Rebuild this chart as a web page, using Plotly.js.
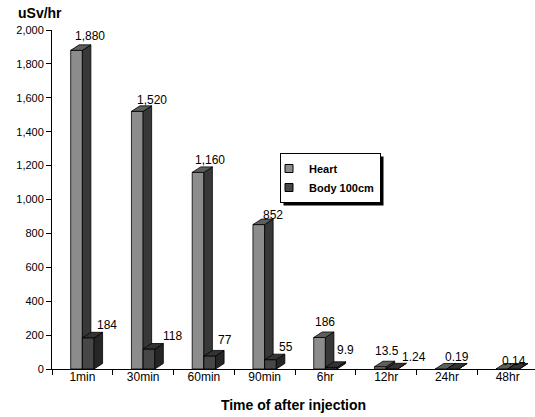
<!DOCTYPE html>
<html>
<head>
<meta charset="utf-8">
<script src="https://cdn.plot.ly/plotly-3.0.1.min.js"></script>
<style>html,body{margin:0;padding:0;background:#fff}#chart{width:535px;height:417px}</style>
</head>
<body>
<div id="chart"></div>
<script>
// ---- data ----
var categories = ["1min", "30min", "60min", "90min", "6hr", "12hr", "24hr", "48hr"];
var heartValues = [1880, 1520, 1160, 852, 186, 13.5, 0.19, 0.14];
var bodyValues  = [184, 118, 77, 55, 9.9, 1.24, 0, 0];
var seriesNames = ["Heart", "Body 100cm"];

// ---- label nudges (px) ----
var heartLabelDX = [8, 9, 6, 8, 0, 1, 10, 6];
var heartLabelDY = [14, 11, 12, 10, 15, 16, 12, 8];
var bodyLabelDX  = [25, 29, 21, 21, 20, 28, 0, 0];
var bodyLabelDY  = [13, 13, 16, 13, 17, 12, 0, 0];

// ---- geometry ----
var W = 535, H = 417;
var M = {l: 52, r: 0, t: 30, b: 48};
var plotW = W - M.l - M.r, plotH = H - M.t - M.b;
var xRange = [-0.5, 7.45], yRange = [0, 2000];
var pxX = (xRange[1] - xRange[0]) / plotW;   // data units per px (x)
var pxY = (yRange[1] - yRange[0]) / plotH;   // data units per px (y)
var barW = 11.7 * pxX;
var depthX = 8.5 * pxX, depthY = 5.5 * pxY;
var FONT = "Liberation Sans, Arial, sans-serif";

function faces(values, offset) {
  var fx = [], fy = [], sx = [], sy = [], tx = [], ty = [];
  values.forEach(function (v, i) {
    var x0 = i + offset, x1 = x0 + barW;
    fx.push(x0, x1, x1, x0, x0, null); fy.push(0, 0, v, v, 0, null);
    sx.push(x1, x1 + depthX, x1 + depthX, x1, x1, null);
    sy.push(0, depthY, v + depthY, v, 0, null);
    tx.push(x0, x1, x1 + depthX, x0 + depthX, x0, null);
    ty.push(v, v, v + depthY, v + depthY, v, null);
  });
  return {front: [fx, fy], side: [sx, sy], top: [tx, ty]};
}

function poly(xy, color) {
  return {
    type: "scatter", mode: "lines", x: xy[0], y: xy[1],
    fill: "toself", fillcolor: color,
    line: {color: "#000", width: 0.8},
    hoverinfo: "skip", showlegend: false, connectgaps: false
  };
}

var hf = faces(heartValues, -barW);
var bf = faces(bodyValues, 0);

var data = [
  poly(hf.front, "#8c8c8c"), poly(hf.side, "#383838"), poly(hf.top, "#5e5e5e"),
  poly(bf.front, "#474747"), poly(bf.side, "#262626"), poly(bf.top, "#333333"),
  {type: "scatter", mode: "markers", x: [-10], y: [1], name: seriesNames[0],
   marker: {symbol: "square", size: 8, color: "#8c8c8c", line: {color: "#000", width: 1}}},
  {type: "scatter", mode: "markers", x: [-10], y: [1], name: seriesNames[1],
   marker: {symbol: "square", size: 8, color: "#474747", line: {color: "#000", width: 1}}}
];

function fmt(v) { return v >= 1000 ? v.toLocaleString("en-US") : String(v); }

var annotations = [];
heartValues.forEach(function (v, i) {
  annotations.push({x: i, y: v, xref: "x", yref: "y", text: fmt(v), showarrow: false,
    xshift: heartLabelDX[i], yshift: heartLabelDY[i], xanchor: "center", yanchor: "middle",
    font: {family: FONT, size: 12, color: "#000"}});
});
bodyValues.forEach(function (v, i) {
  if (!(v > 0)) return;
  annotations.push({x: i, y: v, xref: "x", yref: "y", text: fmt(v), showarrow: false,
    xshift: bodyLabelDX[i], yshift: bodyLabelDY[i], xanchor: "center", yanchor: "middle",
    font: {family: FONT, size: 12, color: "#000"}});
});
annotations.push({xref: "paper", yref: "paper", x: (40 - M.l) / plotW, y: (H - M.b - 13) / plotH,
  text: "<b>uSv/hr</b>", showarrow: false, xanchor: "center", yanchor: "middle",
  font: {family: FONT, size: 14, color: "#000"}});

var layout = {
  width: W, height: H, margin: M,
  paper_bgcolor: "#fff", plot_bgcolor: "#fff",
  font: {family: FONT, size: 11, color: "#000"},
  xaxis: {
    range: xRange, showgrid: false, zeroline: false,
    showline: true, linecolor: "#000", linewidth: 1,
    tickmode: "array", tickvals: categories.map(function (c, i) { return i; }),
    ticktext: categories, ticks: "", ticklabelstandoff: -3,
    minor: {ticks: "outside", tick0: -0.5, dtick: 1, ticklen: 5, tickcolor: "#000", tickwidth: 1, showgrid: false},
    tickfont: {family: FONT, size: 12, color: "#000"},
    title: {text: "<b>Time of after injection</b>", font: {family: FONT, size: 14, color: "#000"}, standoff: 16},
    fixedrange: true
  },
  yaxis: {
    range: yRange, showgrid: false, zeroline: false,
    showline: true, linecolor: "#000", linewidth: 1,
    tickmode: "linear", tick0: 0, dtick: 200, tickformat: ",d",
    ticks: "outside", ticklen: 5, tickcolor: "#000",
    tickfont: {family: FONT, size: 11, color: "#000"},
    fixedrange: true
  },
  showlegend: true,
  legend: {
    x: (280 - M.l) / plotW, y: (H - M.b - 153) / plotH, xanchor: "left", yanchor: "top",
    bgcolor: "#fff", bordercolor: "#000", borderwidth: 1,
    font: {family: FONT, size: 11, color: "#000", weight: "bold"},
    indentation: -12, tracegroupgap: 0, itemwidth: 30
  },
  annotations: annotations,
  shapes: []
};

var gd = document.getElementById("chart");
Plotly.newPlot(gd, data, layout, {staticPlot: true, displayModeBar: false}).then(function () {
  // drop shadow behind the legend box (as in the original)
  var bg = gd.querySelector(".legend .bg");
  if (!bg) return;
  var r = bg.getBoundingClientRect(), g = gd.getBoundingClientRect();
  var off = 3;
  var x0 = r.left - g.left + off, x1 = r.right - g.left + off;
  var y0 = r.top - g.top + off, y1 = r.bottom - g.top + off;
  return Plotly.relayout(gd, {shapes: [{
    type: "rect", xref: "paper", yref: "paper", layer: "above",
    x0: (x0 - M.l) / plotW, x1: (x1 - M.l) / plotW,
    y0: (H - M.b - y1) / plotH, y1: (H - M.b - y0) / plotH,
    fillcolor: "#000", line: {width: 0}
  }]});
});
</script>
</body>
</html>
